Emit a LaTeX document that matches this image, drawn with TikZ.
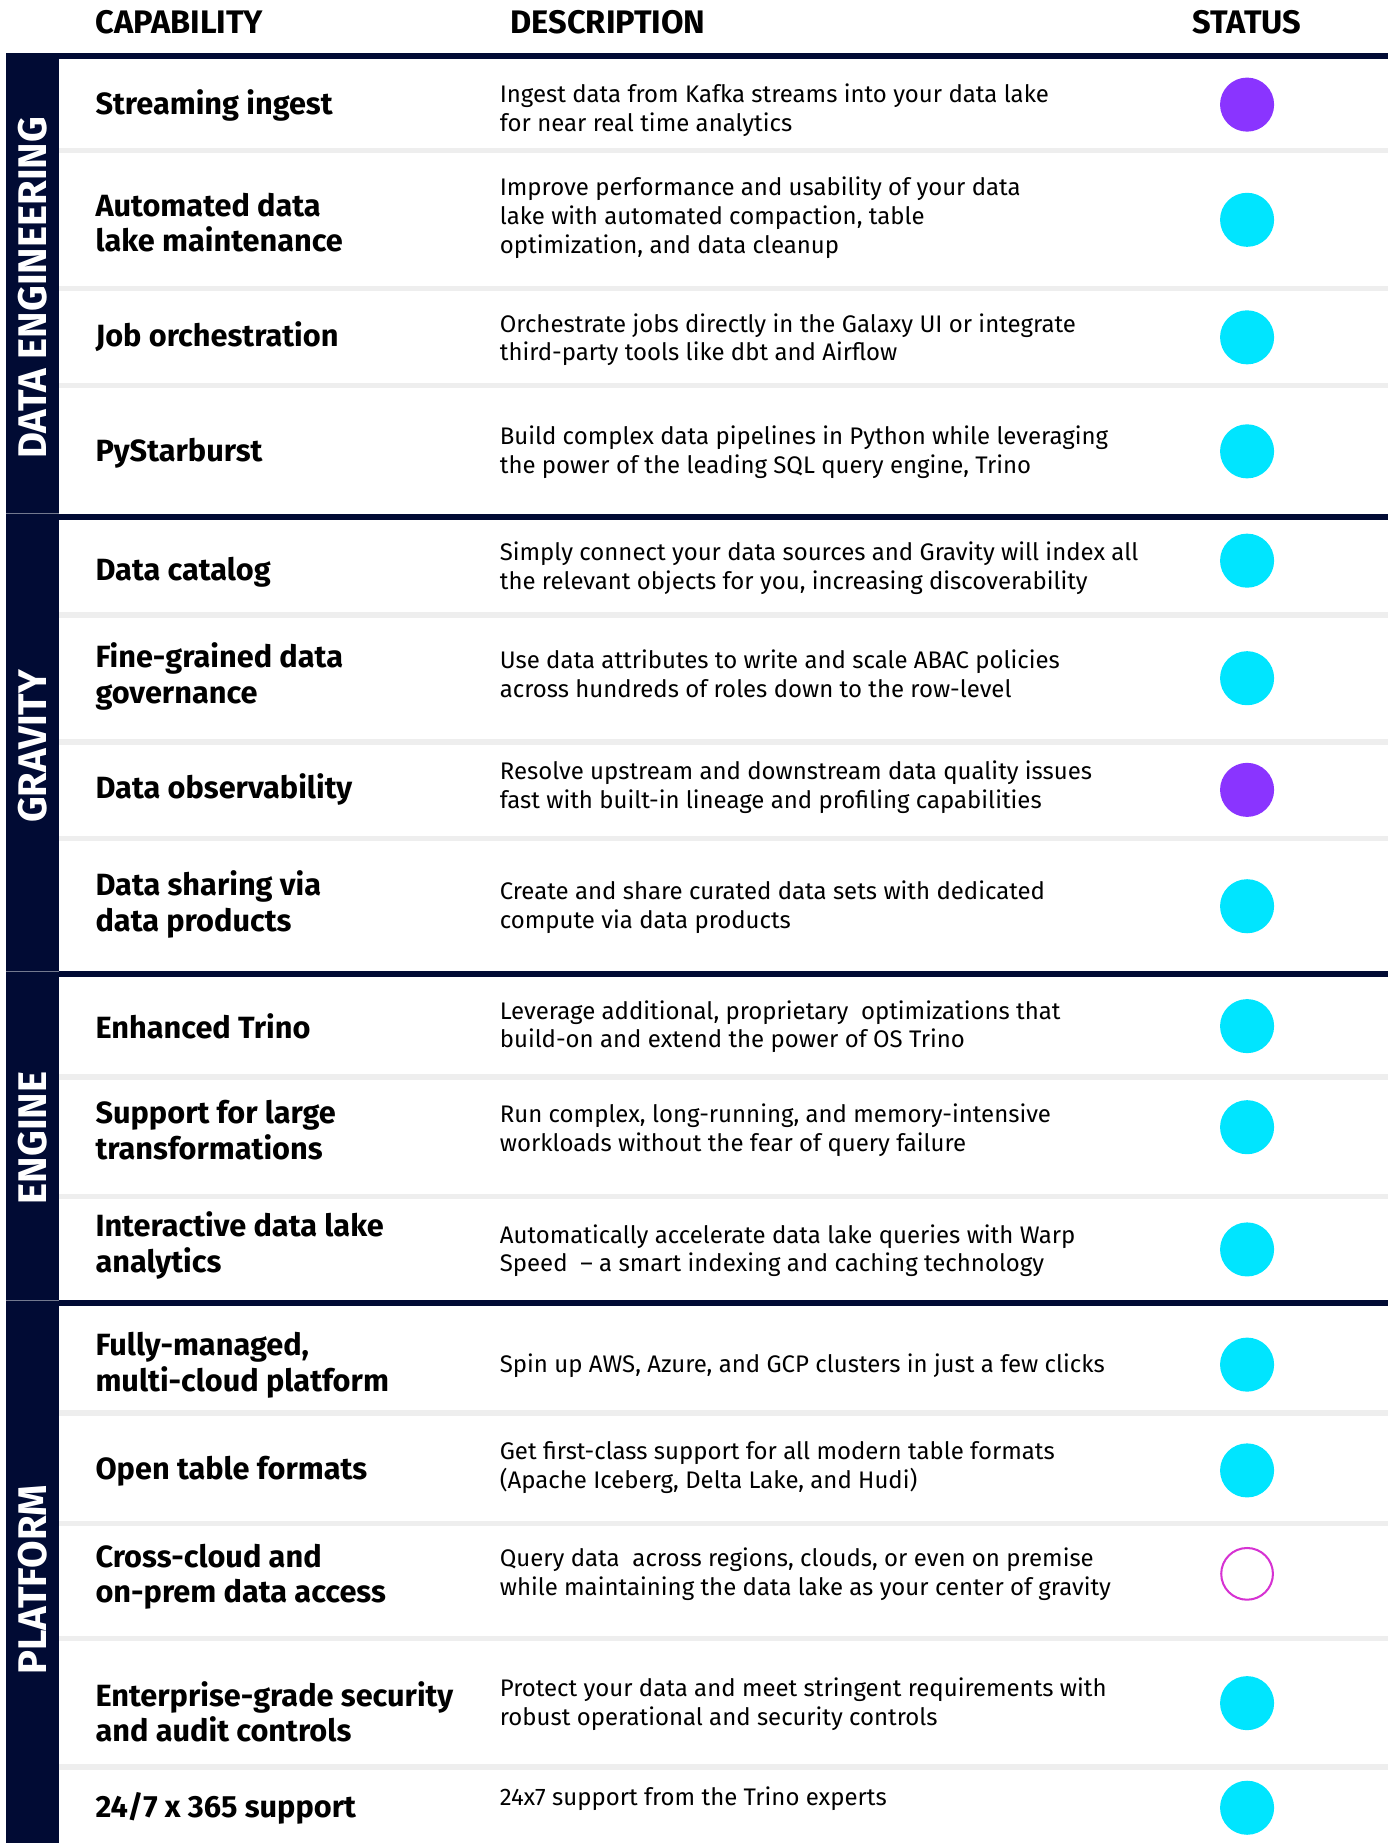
\documentclass[tikz,border=0pt]{standalone}
\usepackage{fontspec}
\setmainfont{Fira Sans}
\definecolor{navy}{RGB}{1,11,52}
\definecolor{rowgray}{RGB}{238,238,238}
\definecolor{statcyan}{RGB}{0,229,255}
\definecolor{statpurple}{RGB}{138,52,255}
\definecolor{statpink}{RGB}{214,50,210}
\tikzset{
  headtxt/.style={font=\fontsize{20.8}{24}\selectfont\bfseries, text=black},
  captxt/.style={anchor=west, align=left, inner sep=0pt, font=\fontsize{19.6}{22.5}\selectfont\bfseries},
  desctxt/.style={anchor=west, align=left, inner sep=0pt, font=\fontsize{15.3}{18.4}\selectfont},
  bandtxt/.style={rotate=90, text=white, font=\fontsize{25.5}{28}\selectfont\bfseries},
  dotfull/.style={circle, minimum size=34.5pt, inner sep=0pt},
  dothollow/.style={circle, minimum size=33pt, inner sep=0pt, draw=statpink, line width=1.3pt},
}
\begin{document}
\begin{tikzpicture}[x=0.75pt,y=-0.75pt]
\useasboundingbox (0,0) rectangle (1181,1568);

%\draw[step=50,gray,very thin] (0,0) grid (1181,1568); %background grid

\fill[navy] (5,45) rectangle (50,1568); %left band
\fill[navy] (5,45) rectangle (1181,50.5); %top rule

\fill[navy] (50,437) rectangle (1181,442.5); %data engineering / gravity
\fill[navy] (50,826) rectangle (1181,831.5); %gravity / engine
\fill[navy] (50,1106) rectangle (1181,1111.5); %engine / platform
\draw[navy!55!white,line width=0.3pt] (5,437) -- (50,437);
\draw[navy!55!white,line width=0.3pt] (5,826) -- (50,826);
\draw[navy!55!white,line width=0.3pt] (5,1106) -- (50,1106);

\fill[rowgray] (50,126) rectangle (1181,130.5);
\fill[rowgray] (50,243) rectangle (1181,247.5);
\fill[rowgray] (50,326) rectangle (1181,330.5);
\fill[rowgray] (50,521) rectangle (1181,525.5);
\fill[rowgray] (50,629) rectangle (1181,633.5);
\fill[rowgray] (50,711) rectangle (1181,715.5);
\fill[rowgray] (50,914) rectangle (1181,918.5);
\fill[rowgray] (50,1016) rectangle (1181,1020.5);
\fill[rowgray] (50,1200) rectangle (1181,1204.5);
\fill[rowgray] (50,1294) rectangle (1181,1298.5);
\fill[rowgray] (50,1392) rectangle (1181,1396.5);
\fill[rowgray] (50,1501) rectangle (1181,1505.5);

% headers
\node[headtxt,anchor=west,inner sep=0pt] (hcap) at (81,19) {CAPABILITY};
\node[headtxt,anchor=west,inner sep=0pt] (hdesc) at (434,19) {DESCRIPTION};
\node[headtxt,inner sep=0pt] (hstat) at (1061,19) {STATUS};

% band labels
\node[bandtxt] (bde) at (27.5,245) {DATA ENGINEERING};
\node[bandtxt] (bgr) at (27.5,635) {GRAVITY};
\node[bandtxt] (ben) at (27.5,968) {ENGINE};
\node[bandtxt] (bpl) at (27.5,1344) {PLATFORM};

% data engineering
\node[captxt] (c1) at (81,89.5) {Streaming ingest};
\node[desctxt] (d1) at (425,94) {Ingest data from Kafka streams into your data lake\\for near real time analytics};
\node[dotfull,fill=statpurple] (s1) at (1061,89) {};

\node[captxt] (c2) at (81,189.5) {Automated data\\lake maintenance};
\node[desctxt] (d2) at (425,185) {Improve performance and usability of your data\\lake with automated compaction, table\\optimization, and data cleanup};
\node[dotfull,fill=statcyan] (s2) at (1061,187) {};

\node[captxt] (c3) at (81,286.5) {Job orchestration};
\node[desctxt] (d3) at (425,289) {Orchestrate jobs directly in the Galaxy UI or integrate\\third-party tools like dbt and Airflow};
\node[dotfull,fill=statcyan] (s3) at (1061,287) {};

\node[captxt] (c4) at (81,385.5) {PyStarburst};
\node[desctxt] (d4) at (425,385) {Build complex data pipelines in Python while leveraging\\the power of the leading SQL query engine, Trino};
\node[dotfull,fill=statcyan] (s4) at (1061,384) {};

% gravity
\node[captxt] (c5) at (81,486.5) {Data catalog};
\node[desctxt] (d5) at (425,483.5) {Simply connect your data sources and Gravity will index all\\the relevant objects for you, increasing discoverability};
\node[dotfull,fill=statcyan] (s5) at (1061,477) {};

\node[captxt] (c6) at (81,575.5) {Fine-grained data\\governance};
\node[desctxt] (d6) at (425,573) {Use data attributes to write and scale ABAC policies\\across hundreds of roles down to the row-level};
\node[dotfull,fill=statcyan] (s6) at (1061,577) {};

\node[captxt] (c7) at (81,671.5) {Data observability};
\node[desctxt] (d7) at (425,669.5) {Resolve upstream and downstream data quality issues\\fast with built-in lineage and profiling capabilities};
\node[dotfull,fill=statpurple] (s7) at (1061,672) {};

\node[captxt] (c8) at (81,769.5) {Data sharing via\\data products};
\node[desctxt] (d8) at (425,771.5) {Create and share curated data sets with dedicated\\compute via data products};
\node[dotfull,fill=statcyan] (s8) at (1061,771) {};

% engine
\node[captxt] (c9) at (81,873.5) {Enhanced Trino};
\node[desctxt] (d9) at (425,873.5) {Leverage additional, proprietary \ optimizations that\\build-on and extend the power of OS Trino};
\node[dotfull,fill=statcyan] (s9) at (1061,873) {};

\node[captxt] (c10) at (81,961.5) {Support for large\\transformations};
\node[desctxt] (d10) at (425,961.5) {Run complex, long-running, and memory-intensive\\workloads without the fear of query failure};
\node[dotfull,fill=statcyan] (s10) at (1061,959) {};

\node[captxt] (c11) at (81,1059.5) {Interactive data lake\\analytics};
\node[desctxt] (d11) at (425,1064) {Automatically accelerate data lake queries with Warp\\Speed \ -- a smart indexing and caching technology};
\node[dotfull,fill=statcyan] (s11) at (1061,1063) {};

% platform
\node[captxt] (c12) at (81,1161.5) {Fully-managed,\\multi-cloud platform};
\node[desctxt] (d12) at (425,1161.5) {Spin up AWS, Azure, and GCP clusters in just a few clicks};
\node[dotfull,fill=statcyan] (s12) at (1061,1161) {};

\node[captxt] (c13) at (81,1251.5) {Open table formats};
\node[desctxt] (d13) at (425,1248.5) {Get first-class support for all modern table formats\\(Apache Iceberg, Delta Lake, and Hudi)};
\node[dotfull,fill=statcyan] (s13) at (1061,1251) {};

\node[captxt] (c14) at (81,1341.5) {Cross-cloud and\\on-prem data access};
\node[desctxt] (d14) at (425,1339.5) {Query data \ across regions, clouds, or even on premise\\while maintaining the data lake as your center of gravity};
\node[dothollow] (s14) at (1061,1339) {};

\node[captxt] (c15) at (81,1456.5) {Enterprise-grade security\\and audit controls};
\node[desctxt] (d15) at (425,1450) {Protect your data and meet stringent requirements with\\robust operational and security controls};
\node[dotfull,fill=statcyan] (s15) at (1061,1449) {};

\node[captxt] (c16) at (81,1538.5) {24/7 x 365 support};
\node[desctxt] (d16) at (425,1530.5) {24x7 support from the Trino experts};
\node[dotfull,fill=statcyan] (s16) at (1061,1538) {};

\end{tikzpicture}
\end{document}
